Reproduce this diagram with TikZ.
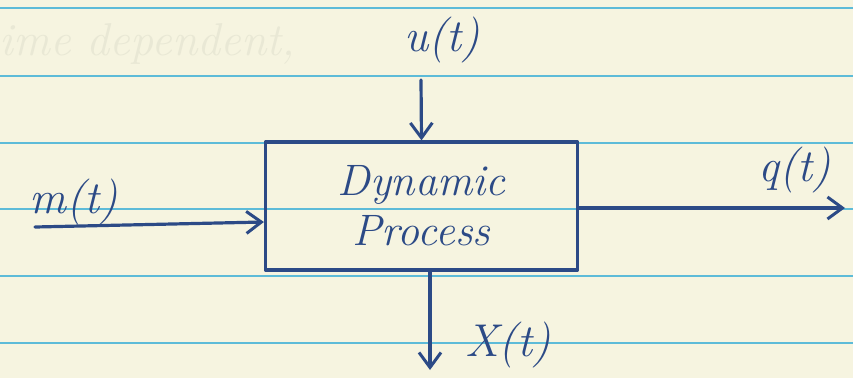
\documentclass[tikz,border=0pt]{standalone}
\usetikzlibrary{arrows.meta}
\definecolor{paper}{HTML}{F6F4E0}
\definecolor{rule}{HTML}{5DBBD8}
\definecolor{ink}{HTML}{2C4A86}
\definecolor{ghost}{HTML}{E9E8D5}
\tikzset{
  ink line/.style={draw=ink, line width=3.2pt, line cap=round, line join=round},
  arr/.style={ink line, -{Straight Barb[length=15pt,width=22pt,line width=3pt]}},
  blockbox/.style={ink line, minimum width=312pt, minimum height=128pt, inner sep=0pt,
    align=center, font=\fontsize{44}{52}\selectfont\itshape, text=ink},
  sig/.style={text=ink, font=\fontsize{46}{50}\selectfont\itshape, inner sep=0pt},
}
\begin{document}
\begin{tikzpicture}[x=1pt, y=-1pt]
  % sheet of ruled paper
  \fill[paper] (0,0) rectangle (853,378);
  \useasboundingbox (0,0) rectangle (853,378);
  \foreach \yy in {8,76,143,209,276,343}
    \draw[rule, line width=1.8pt] (0,\yy) -- (853,\yy);
  % faint writing showing through from the other side
  \node[text=ghost, font=\fontsize{46}{50}\selectfont\itshape, anchor=west] (shadow) at (-4,44) {ime dependent,};

  % the process block
  \node[blockbox] (box) at (421.5,206) {Dynamic\\[-2pt]Process};

  % signal end points
  \coordinate (utop) at (421,80);
  \coordinate (min) at (35,227);
  \coordinate (qend) at (845,208);
  \coordinate (xbot) at (430,370);

  \draw[arr] (utop) -- (box.north);
  \draw[arr] (min) -- ([yshift=-16pt]box.west);
  \draw[arr] (box.east |- qend) -- (qend);
  \draw[arr] (box.south -| xbot) -- (xbot);

  % signal labels
  \node[sig] (ulab) at (442,40) {u(t)};
  \node[sig] (mlab) at (74,202) {m(t)};
  \node[sig] (qlab) at (795,170) {q(t)};
  \node[sig] (xlab) at (508,345) {X(t)};
\end{tikzpicture}
\end{document}
